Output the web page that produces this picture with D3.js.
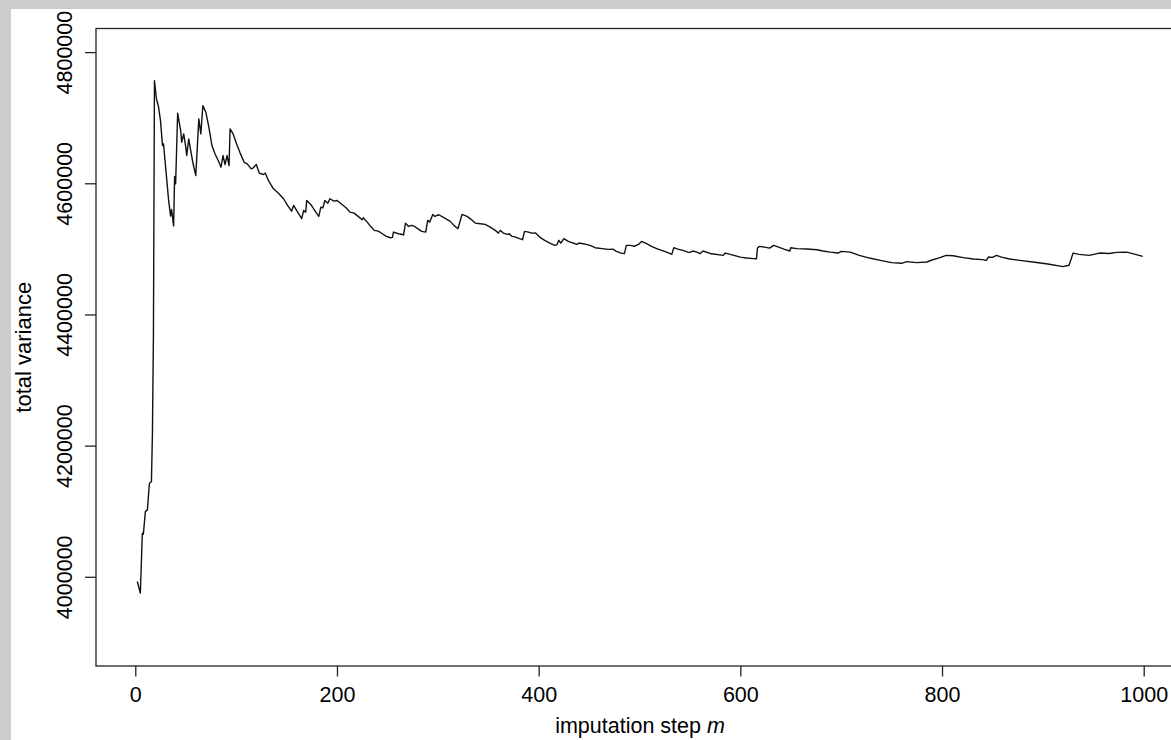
<meta charset="utf-8">
<script src="https://d3js.org/d3.v7.min.js"></script>
<style>
  body { margin: 0; background: #cccccc; }
  text { font-family: "Liberation Sans", Arial, sans-serif; fill: #000; }
</style>
<body>
<div id="chart"></div>
<script>

// imputation step and total variance
var steps = [2, 5, 7, 8, 10, 12, 14, 16, 17, 18, 19, 21, 23, 25, 27, 28, 33, 35, 36, 38,
  39, 40, 42, 45, 46, 48, 50, 51, 53, 55, 57, 60, 63, 65, 67, 70, 73, 76, 79, 83,
  85, 87, 89, 91, 93, 94, 97, 101, 104, 108, 111, 115, 117, 120, 123, 127, 129, 132, 137, 142,
  147, 151, 155, 157, 161, 165, 167, 169, 170, 174, 179, 182, 184, 186, 188, 191, 193, 197, 200, 205,
  209, 213, 217, 221, 225, 226, 230, 234, 237, 241, 245, 249, 253, 255, 256, 261, 265, 266, 268, 271,
  274, 277, 280, 284, 288, 290, 292, 295, 297, 301, 306, 312, 316, 320, 324, 329, 333, 337, 342, 347,
  352, 357, 360, 362, 365, 369, 371, 373, 377, 381, 384, 386, 390, 393, 397, 401, 406, 411, 416, 418,
  420, 422, 425, 429, 434, 438, 440, 444, 451, 456, 463, 469, 474, 477, 482, 485, 487, 491, 495, 499,
  502, 507, 512, 517, 522, 527, 532, 534, 538, 543, 548, 550, 553, 557, 560, 563, 570, 583, 585, 590,
  600, 606, 613, 616, 617, 619, 624, 629, 633, 638, 644, 649, 650, 656, 666, 676, 682, 689, 697, 700,
  709, 718, 728, 740, 750, 760, 765, 775, 785, 790, 798, 804, 811, 821, 831, 840, 844, 846, 850, 854,
  859, 867, 877, 890, 905, 920, 926, 930, 936, 946, 956, 966, 973, 983, 989, 999]

var totalVariance = [3992800, 3975200, 4066500, 4065000, 4099400, 4102000, 4142600, 4145000, 4218700, 4371000,
  4756500, 4728600, 4717000, 4695600, 4657500, 4660000, 4575000, 4550000, 4560000, 4535000,
  4610300, 4599300, 4706800, 4680400, 4662500, 4675300, 4656000, 4642300, 4667700, 4649400,
  4632100, 4611900, 4698200, 4675300, 4718400, 4708200, 4685400, 4657600, 4645000, 4632100,
  4624500, 4642300, 4628600, 4642300, 4627000, 4683000, 4675300, 4657500, 4646000, 4632000,
  4629600, 4622000, 4623600, 4628600, 4615400, 4613400, 4615400, 4604300, 4591600, 4584900,
  4576400, 4566200, 4557500, 4566200, 4556000, 4546000, 4558600, 4556000, 4573800, 4567700,
  4556000, 4549500, 4563600, 4562700, 4573800, 4569700, 4576400, 4572800, 4573800, 4567700,
  4562700, 4556000, 4554500, 4549500, 4544400, 4547500, 4540800, 4533200, 4528200, 4527100,
  4523100, 4519000, 4517000, 4517500, 4525600, 4523100, 4522000, 4521000, 4539300, 4534200,
  4535800, 4534200, 4530800, 4526600, 4525600, 4543400, 4540800, 4552500, 4549500, 4552000,
  4547500, 4542300, 4535800, 4530800, 4552500, 4549500, 4545000, 4539300, 4538400, 4537300,
  4533200, 4528200, 4524100, 4528200, 4524100, 4522000, 4523000, 4519500, 4518000, 4515500,
  4514000, 4526600, 4525600, 4524000, 4524100, 4518000, 4513000, 4508900, 4505300, 4506000,
  4513000, 4508900, 4515500, 4511900, 4508900, 4506800, 4509000, 4507900, 4505300, 4501800,
  4500300, 4499200, 4499500, 4496200, 4493600, 4492700, 4505300, 4505300, 4504000, 4506800,
  4511400, 4507900, 4503800, 4500300, 4497700, 4495100, 4491600, 4501800, 4499700, 4497700,
  4495100, 4494500, 4496700, 4495100, 4492700, 4496700, 4493000, 4490100, 4493600, 4491600,
  4487500, 4486000, 4485100, 4485000, 4501200, 4503800, 4502700, 4501200, 4505300, 4502700,
  4499200, 4496700, 4501800, 4500300, 4499700, 4498700, 4496700, 4495100, 4493600, 4496200,
  4495100, 4490100, 4486000, 4482000, 4479000, 4478000, 4480500, 4479000, 4480000, 4483000,
  4486600, 4490100, 4489500, 4486600, 4484500, 4483600, 4482500, 4487500, 4487000, 4490100,
  4487500, 4484500, 4482500, 4480000, 4477000, 4473000, 4475000, 4493600, 4491600, 4490100,
  4493600, 4493000, 4494600, 4495100, 4492700, 4488600]

var xTicks = [0, 200, 400, 600, 800, 1000]
var yTicks = [4000000, 4200000, 4400000, 4600000, 4800000]

var width = 1171
var height = 740

var svg = d3.select("#chart")
  .append("svg")
    .attr("width", width)
    .attr("height", height)

// grey frame, white page
svg.append("rect")
  .attr("width", width).attr("height", height)
  .attr("fill", "#cccccc")
svg.append("rect")
  .attr("x", 11).attr("y", 9)
  .attr("width", width - 11).attr("height", height - 9)
  .attr("fill", "#ffffff")

var x = d3.scaleLinear()
  .domain([-38.96, 1039.96])
  .range([96, 1184])

var y = d3.scaleLinear()
  .domain([3864000, 4836000])
  .range([666, 28.5])

// plot box
svg.append("rect")
  .attr("x", x.range()[0])
  .attr("y", y.range()[1])
  .attr("width", x.range()[1] - x.range()[0])
  .attr("height", y.range()[0] - y.range()[1])
  .attr("fill", "none")
  .attr("stroke", "#222")
  .attr("stroke-width", 1.3)

// x axis
var xAxis = d3.axisBottom(x)
  .tickValues(xTicks)
  .tickSize(10.5)
  .tickPadding(8)
  .tickFormat(d3.format("d"))

svg.append("g")
  .attr("transform", "translate(0," + y.range()[0] + ")")
  .call(xAxis)
  .call(g => g.select(".domain").remove())
  .call(g => g.selectAll("line").attr("stroke", "#222").attr("stroke-width", 1.3))
  .call(g => g.selectAll("text")
      .attr("font-size", "21.5px")
      .attr("font-family", "Liberation Sans, Arial, sans-serif")
      .attr("fill", "#000")
      .attr("dy", null)
      .attr("y", 35.5))

// y axis, labels turned like R does it
var yAxis = d3.axisLeft(y)
  .tickValues(yTicks)
  .tickSize(11)
  .tickFormat(d3.format("d"))

svg.append("g")
  .attr("transform", "translate(" + x.range()[0] + ",0)")
  .call(yAxis)
  .call(g => g.select(".domain").remove())
  .call(g => g.selectAll("line").attr("stroke", "#222").attr("stroke-width", 1.3))
  .call(g => g.selectAll("text")
      .attr("font-size", "21.5px")
      .attr("font-family", "Liberation Sans, Arial, sans-serif")
      .attr("fill", "#000")
      .attr("x", null)
      .attr("dy", null)
      .attr("text-anchor", "middle")
      .attr("transform", "translate(-24.5,0) rotate(-90)"))

// the series
var line = d3.line()
  .x(function(d, i) { return x(steps[i]) })
  .y(function(d) { return y(d) })

svg.append("path")
  .datum(totalVariance)
  .attr("d", line)
  .attr("fill", "none")
  .attr("stroke", "#111")
  .attr("stroke-width", 1.4)
  .attr("stroke-linejoin", "round")

// axis titles
var xt = svg.append("text")
  .attr("x", (x.range()[0] + x.range()[1]) / 2)
  .attr("y", 733)
  .attr("text-anchor", "middle")
  .attr("font-size", "21.5px")
xt.append("tspan").text("imputation step ")
xt.append("tspan").attr("font-style", "italic").text("m")

svg.append("text")
  .attr("transform", "translate(31," + (y.range()[0] + y.range()[1]) / 2 + ") rotate(-90)")
  .attr("text-anchor", "middle")
  .attr("font-size", "22px")
  .text("total variance")

</script>
</body>
